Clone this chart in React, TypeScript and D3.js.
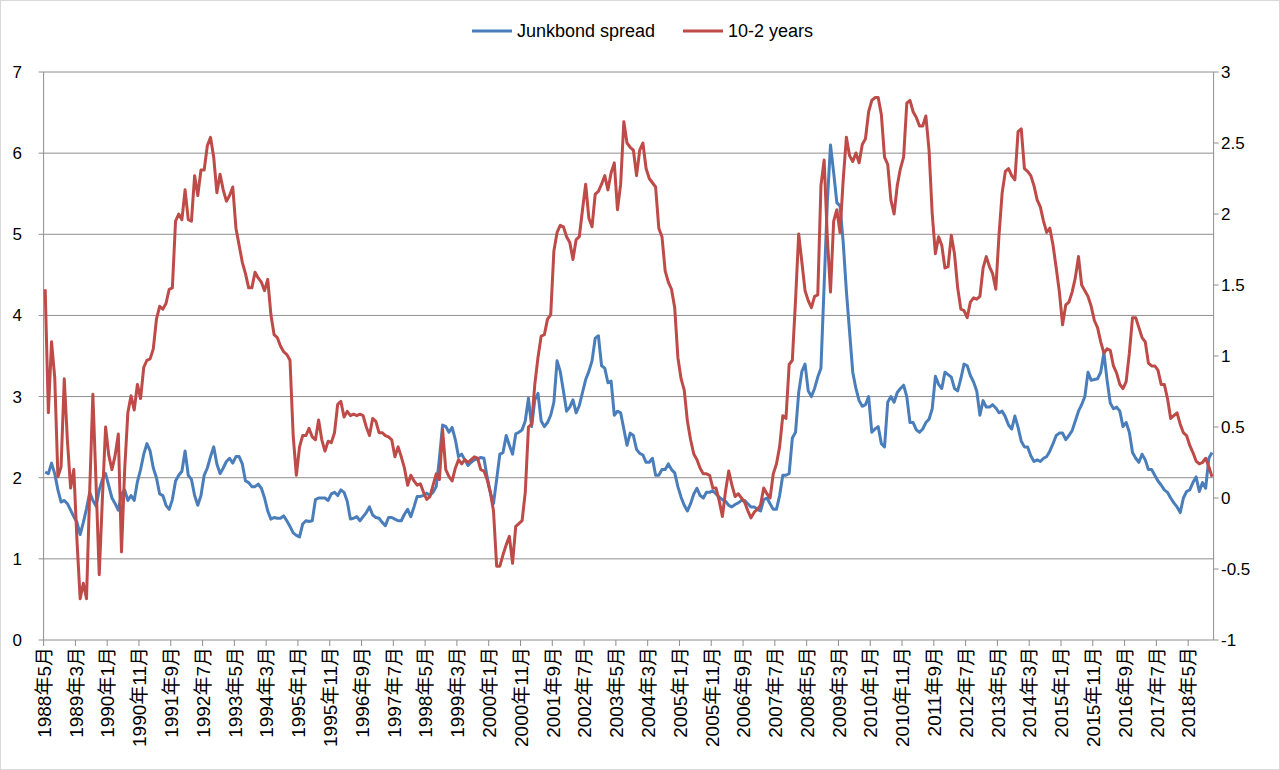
import React, { useEffect, useRef } from "react";
import * as d3 from "d3";

// monthly categories, 1988-05 .. 2018-12
const firstYear = 1988;
const firstMonth = 5;
const monthCount = 368;
const categories: string[] = d3.range(monthCount).map((i) => {
  const t = firstMonth - 1 + i;
  return `${firstYear + Math.floor(t / 12)}年${(t % 12) + 1}月`;
});

const xTickLabels = [
  "1988年5月", "1989年3月", "1990年1月", "1990年11月", "1991年9月", "1992年7月", "1993年5月",
  "1994年3月", "1995年1月", "1995年11月", "1996年9月", "1997年7月", "1998年5月", "1999年3月",
  "2000年1月", "2000年11月", "2001年9月", "2002年7月", "2003年5月", "2004年3月", "2005年1月",
  "2005年11月", "2006年9月", "2007年7月", "2008年5月", "2009年3月", "2010年1月", "2010年11月",
  "2011年9月", "2012年7月", "2013年5月", "2014年3月", "2015年1月", "2015年11月", "2016年9月",
  "2017年7月", "2018年5月",
];
const leftTicks = [0, 1, 2, 3, 4, 5, 6, 7];
const rightTicks = [-1, -0.5, 0, 0.5, 1, 1.5, 2, 2.5, 3];

// Junkbond spread (left axis)
const junkSpread = [
  2.07, 2.05, 2.18, 2.05, 1.85, 1.7, 1.72, 1.68, 1.6, 1.52,
  1.45, 1.3, 1.45, 1.62, 1.82, 1.72, 1.65, 1.85, 1.98, 2.05,
  1.9, 1.75, 1.68, 1.6, 1.8, 1.85, 1.72, 1.78, 1.72, 1.95,
  2.1, 2.29, 2.42, 2.33, 2.12, 2.0, 1.8, 1.78, 1.66, 1.61,
  1.73, 1.96, 2.03, 2.08, 2.33, 2.03, 1.98, 1.78, 1.66, 1.78,
  2.03, 2.12, 2.26, 2.38, 2.17, 2.05, 2.12, 2.2, 2.24, 2.18,
  2.26, 2.26, 2.17, 1.96, 1.94, 1.89, 1.89, 1.92, 1.87, 1.75,
  1.59, 1.49, 1.51, 1.5, 1.5, 1.53, 1.47, 1.4, 1.32, 1.29,
  1.27, 1.43, 1.47, 1.46, 1.47, 1.73, 1.75, 1.75, 1.75, 1.72,
  1.8, 1.82, 1.78, 1.85, 1.82, 1.71, 1.49, 1.5, 1.52, 1.47,
  1.52, 1.57, 1.64, 1.54, 1.51, 1.5, 1.45, 1.41, 1.51, 1.51,
  1.49, 1.47, 1.47, 1.55, 1.61, 1.52, 1.64, 1.77, 1.77, 1.78,
  1.81, 1.78, 1.82, 1.89, 2.24, 2.65, 2.63, 2.56, 2.62, 2.47,
  2.26, 2.29, 2.22, 2.15, 2.19, 2.22, 2.23, 2.25, 2.24, 2.01,
  1.82, 1.68, 1.98, 2.29, 2.31, 2.52, 2.4, 2.29, 2.54, 2.56,
  2.59, 2.7, 2.98, 2.63, 2.96, 3.04, 2.7, 2.63, 2.68, 2.77,
  2.93, 3.44, 3.31, 3.07, 2.82, 2.87, 2.96, 2.8, 2.89, 3.05,
  3.21, 3.31, 3.44, 3.72, 3.75, 3.38, 3.35, 3.17, 3.19, 2.77,
  2.82, 2.8, 2.6, 2.4, 2.55, 2.52, 2.35, 2.3, 2.28, 2.19,
  2.19, 2.24, 2.03, 2.03, 2.1, 2.1, 2.17, 2.1, 2.06, 1.89,
  1.76, 1.66, 1.59, 1.68, 1.8, 1.87, 1.78, 1.75, 1.82, 1.82,
  1.84, 1.8, 1.76, 1.73, 1.71, 1.66, 1.64, 1.67, 1.69, 1.72,
  1.72, 1.68, 1.64, 1.64, 1.61, 1.59, 1.73, 1.75, 1.68, 1.61,
  1.61, 1.78, 2.03, 2.03, 2.05, 2.49, 2.56, 3.05, 3.31, 3.4,
  3.07, 3.0, 3.1, 3.24, 3.35, 4.37, 5.39, 6.1, 5.76, 5.39,
  5.35, 4.9, 4.3, 3.8, 3.3, 3.1, 2.95, 2.88, 2.9, 3.0,
  2.56, 2.6, 2.63, 2.42, 2.38, 2.93, 3.0, 2.93, 3.05, 3.1,
  3.14, 3.0, 2.68, 2.68, 2.59, 2.56, 2.6, 2.68, 2.72, 2.85,
  3.25, 3.15, 3.1, 3.3, 3.27, 3.24, 3.1, 3.07, 3.22, 3.4,
  3.38, 3.26, 3.18, 3.07, 2.77, 2.95, 2.87, 2.87, 2.9, 2.86,
  2.8, 2.82, 2.75, 2.65, 2.6, 2.76, 2.62, 2.45, 2.38, 2.38,
  2.27, 2.2, 2.22, 2.2, 2.24, 2.26, 2.33, 2.42, 2.52, 2.55,
  2.55, 2.47, 2.52, 2.58, 2.7, 2.82, 2.9, 3.0, 3.3, 3.2,
  3.21, 3.22, 3.3, 3.54, 3.2, 2.92, 2.85, 2.87, 2.82, 2.63,
  2.68, 2.56, 2.31, 2.24, 2.19, 2.29, 2.22, 2.1, 2.1, 2.03,
  1.96, 1.91, 1.85, 1.82, 1.75, 1.69, 1.64, 1.57, 1.75, 1.83,
  1.85, 1.94, 2.01, 1.83, 1.94, 1.87, 2.24, 2.31,
];

// 10-2 years (right axis)
const tenMinusTwo = [
  1.47, 0.6, 1.1, 0.85, 0.15, 0.22, 0.84, 0.4, 0.07, 0.2,
  -0.3, -0.71, -0.6, -0.71, 0.05, 0.73, 0.1, -0.54, 0.0, 0.5,
  0.3, 0.2, 0.3, 0.45, -0.38, 0.2, 0.6, 0.72, 0.62, 0.8,
  0.7, 0.92, 0.97, 0.98, 1.05, 1.26, 1.35, 1.33, 1.37, 1.47,
  1.48, 1.95, 2.0, 1.96, 2.17, 1.96, 1.95, 2.27, 2.13, 2.31,
  2.31, 2.48, 2.54, 2.4, 2.15, 2.28, 2.17, 2.09, 2.13, 2.19,
  1.9, 1.78, 1.66, 1.58, 1.48, 1.48, 1.59, 1.55, 1.52, 1.46,
  1.54, 1.29, 1.15, 1.13, 1.07, 1.03, 1.01, 0.97, 0.44, 0.16,
  0.36, 0.44, 0.44, 0.49, 0.43, 0.41, 0.55, 0.41, 0.33, 0.4,
  0.39, 0.46, 0.66, 0.68, 0.57, 0.61, 0.58, 0.59, 0.58, 0.59,
  0.58, 0.5, 0.44, 0.56, 0.54, 0.46, 0.46, 0.44, 0.43, 0.41,
  0.29, 0.36, 0.29, 0.21, 0.09, 0.16, 0.12, 0.09, 0.1, 0.04,
  -0.01, 0.01, 0.09, 0.17, 0.13, 0.48, 0.2, 0.15, 0.12, 0.21,
  0.27, 0.24, 0.27, 0.25, 0.27, 0.29, 0.28, 0.2, 0.19, 0.13,
  0.04, -0.09, -0.48, -0.48, -0.4, -0.33, -0.27, -0.46, -0.2, -0.18,
  -0.16, 0.04, 0.5, 0.52, 0.8, 0.99, 1.14, 1.15, 1.26, 1.29,
  1.74, 1.87, 1.92, 1.91, 1.84, 1.8, 1.68, 1.82, 1.84, 2.03,
  2.21, 1.97, 1.91, 2.14, 2.16, 2.21, 2.27, 2.17, 2.29, 2.36,
  2.03, 2.21, 2.65, 2.5, 2.47, 2.45, 2.27, 2.45, 2.5, 2.32,
  2.25, 2.22, 2.19, 1.9, 1.84, 1.6, 1.52, 1.47, 1.34, 0.99,
  0.84, 0.76, 0.54, 0.41, 0.31, 0.27, 0.21, 0.17, 0.17, 0.16,
  0.07, 0.07, -0.02, -0.13, 0.05, 0.19, 0.09, 0.01, 0.03, 0.0,
  -0.03, -0.09, -0.14, -0.1, -0.08, -0.05, 0.07, 0.03, 0.0, 0.17,
  0.24, 0.36, 0.58, 0.56, 0.94, 0.97, 1.39, 1.86, 1.66, 1.46,
  1.39, 1.34, 1.42, 1.43, 2.2, 2.38, 1.84, 1.45, 1.95, 2.03,
  1.87, 2.24, 2.54, 2.41, 2.37, 2.43, 2.36, 2.49, 2.53, 2.72,
  2.8, 2.82, 2.82, 2.7, 2.4, 2.35, 2.1, 2.0, 2.2, 2.32,
  2.4, 2.78, 2.8, 2.72, 2.68, 2.62, 2.62, 2.69, 2.45, 2.0,
  1.72, 1.84, 1.78, 1.62, 1.63, 1.85, 1.72, 1.48, 1.33, 1.32,
  1.27, 1.38, 1.41, 1.4, 1.42, 1.62, 1.7, 1.63, 1.58, 1.47,
  1.85, 2.15, 2.3, 2.32, 2.27, 2.24, 2.58, 2.6, 2.32, 2.3,
  2.27, 2.2, 2.1, 2.05, 1.95, 1.87, 1.9, 1.78, 1.62, 1.45,
  1.22, 1.36, 1.38, 1.45, 1.55, 1.7, 1.5, 1.46, 1.42, 1.35,
  1.25, 1.2, 1.1, 1.02, 1.05, 1.04, 0.93, 0.88, 0.8, 0.77,
  0.82, 1.02, 1.27, 1.27, 1.2, 1.13, 1.1, 0.95, 0.93, 0.93,
  0.9, 0.8, 0.8, 0.7, 0.56, 0.58, 0.6, 0.52, 0.46, 0.44,
  0.37, 0.32, 0.26, 0.24, 0.25, 0.28, 0.22, 0.15,
];

const W = 1280;
const H = 770;
const FONT = "'Liberation Sans', 'Noto Sans CJK JP', sans-serif";
const BLUE = "#4a7ebb";
const RED = "#be4b48";
const GRID = "#8e8e8e";

export default function App() {
  const svgRef = useRef<SVGSVGElement>(null);

  useEffect(() => {
    const left = 43.6;
    const right = 1213.6;
    const top = 72;
    const bottom = 640;

    const x = d3.scaleBand<string>().domain(categories).range([left, right]).padding(0);
    const cx = (i: number) => (x(categories[i]) as number) + x.bandwidth() / 2;
    const yL = d3.scaleLinear().domain([0, 7]).range([bottom, top]);
    const yR = d3.scaleLinear().domain([-1, 3]).range([bottom, top]);

    const svg = d3.select(svgRef.current).attr("width", W).attr("height", H);
    svg.selectAll("*").remove();

    svg.append("rect").attr("x", 0.5).attr("y", 0.5).attr("width", W - 1).attr("height", H - 1)
      .attr("fill", "#ffffff").attr("stroke", "#d9d9d9");

    // horizontal gridlines
    svg.append("g").selectAll("line").data(leftTicks.slice(1)).join("line")
      .attr("x1", left).attr("x2", right)
      .attr("y1", (d) => yL(d)).attr("y2", (d) => yL(d))
      .attr("stroke", GRID).attr("stroke-width", 1);

    // left axis
    const gl = svg.append("g");
    gl.append("line").attr("x1", left).attr("x2", left).attr("y1", top).attr("y2", bottom).attr("stroke", GRID);
    gl.selectAll("line.t").data(leftTicks).join("line").attr("class", "t")
      .attr("x1", left - 5).attr("x2", left).attr("y1", (d) => yL(d)).attr("y2", (d) => yL(d)).attr("stroke", GRID);
    gl.selectAll("text").data(leftTicks).join("text")
      .attr("x", 22).attr("y", (d) => yL(d)).attr("dy", "0.35em").attr("text-anchor", "end")
      .attr("font-family", FONT).attr("font-size", 17).attr("fill", "#000")
      .text((d) => d3.format("")(d));

    // right axis
    const gr = svg.append("g");
    gr.append("line").attr("x1", right).attr("x2", right).attr("y1", top).attr("y2", bottom).attr("stroke", GRID);
    gr.selectAll("line.t").data(rightTicks).join("line").attr("class", "t")
      .attr("x1", right).attr("x2", right + 5).attr("y1", (d) => yR(d)).attr("y2", (d) => yR(d)).attr("stroke", GRID);
    gr.selectAll("text").data(rightTicks).join("text")
      .attr("x", 1221).attr("y", (d) => yR(d)).attr("dy", "0.35em").attr("text-anchor", "start")
      .attr("font-family", FONT).attr("font-size", 17).attr("fill", "#000")
      .text((d) => String(d));

    // bottom axis
    const gb = svg.append("g");
    gb.append("line").attr("x1", left).attr("x2", right).attr("y1", bottom).attr("y2", bottom).attr("stroke", GRID);
    const tickIdx = d3.range(0, monthCount, 10);
    gb.selectAll("line.t").data(tickIdx).join("line").attr("class", "t")
      .attr("x1", (i) => x(categories[i]) as number).attr("x2", (i) => x(categories[i]) as number)
      .attr("y1", bottom).attr("y2", bottom + 6).attr("stroke", GRID);
    gb.selectAll("text").data(xTickLabels).join("text")
      .attr("transform", (d, k) => `translate(${cx(k * 10) - 1},${bottom + 7}) rotate(-90)`)
      .attr("dy", "0.35em").attr("text-anchor", "end")
      .attr("font-family", FONT).attr("font-size", 19).attr("fill", "#000")
      .text((d) => d);

    // series
    const lineL = d3.line<number>().x((d, i) => cx(i)).y((d) => yL(d));
    const lineR = d3.line<number>().x((d, i) => cx(i)).y((d) => yR(d));
    svg.append("path").datum(junkSpread).attr("d", lineL).attr("fill", "none")
      .attr("stroke", BLUE).attr("stroke-width", 3).attr("stroke-linejoin", "round");
    svg.append("path").datum(tenMinusTwo).attr("d", lineR).attr("fill", "none")
      .attr("stroke", RED).attr("stroke-width", 3).attr("stroke-linejoin", "round");

    // legend
    const legend = [
      { name: "Junkbond spread", color: BLUE, x0: 472 },
      { name: "10-2 years", color: RED, x0: 683 },
    ];
    const lg = svg.append("g");
    legend.forEach((l) => {
      lg.append("line").attr("x1", l.x0).attr("x2", l.x0 + 40).attr("y1", 31).attr("y2", 31)
        .attr("stroke", l.color).attr("stroke-width", 3);
      lg.append("text").attr("x", l.x0 + 45).attr("y", 31).attr("dy", "0.35em")
        .attr("font-family", FONT).attr("font-size", 18).attr("fill", "#000").text(l.name);
    });
  }, []);

  return (
    <div style={{ position: "fixed", left: 0, top: 0 }}>
      <svg ref={svgRef}></svg>
    </div>
  );
}
